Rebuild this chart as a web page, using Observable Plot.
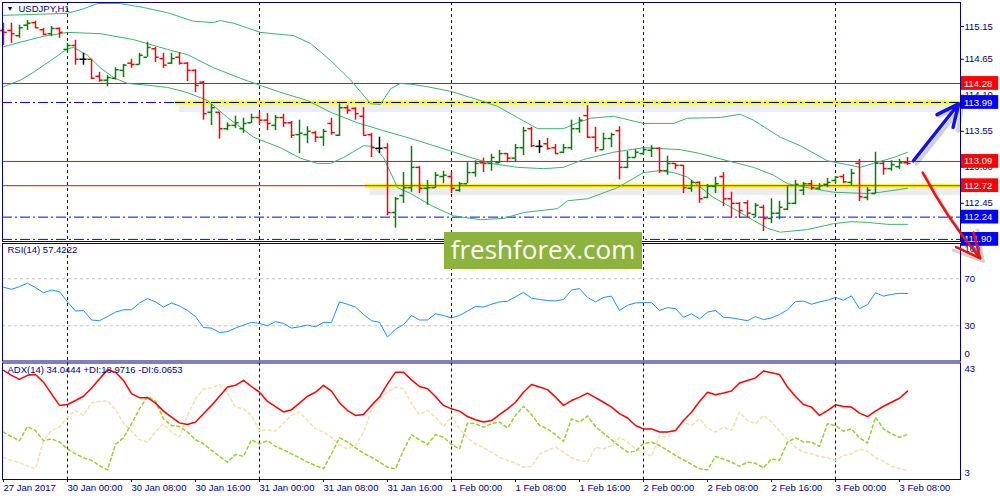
<!DOCTYPE html>
<html>
<head>
<meta charset="utf-8">
<script src="https://cdn.jsdelivr.net/npm/d3@7"></script>
<script src="https://cdn.jsdelivr.net/npm/@observablehq/plot@0.6"></script>
<style>
  body { margin: 0; background: #fff; }
  #chart { position: relative; width: 1000px; height: 500px; overflow: hidden; background: #fff; }
  #chart svg { position: absolute; left: 0; overflow: visible; }
  #wm {
    position: absolute; left: 444px; top: 232px; width: 198px; height: 37px;
    background: #8db33f; color: #fff; font: 26px "Open Sans", sans-serif;
    line-height: 35px; text-align: center;
  }
</style>
</head>
<body>
<div id="chart"></div>
<script>
// USDJPY H1, bars 0..113 = 27 Jan 16:00 .. 3 Feb 09:00
const open = [115.09,115.09,115.01,115.17,115.21,115.10,115.04,115.12,114.80,114.86,
  114.65,114.65,114.39,114.33,114.36,114.48,114.59,114.57,114.68,114.81,
  114.66,114.59,114.68,114.59,114.48,114.30,113.84,113.84,113.59,113.64,
  113.59,113.68,113.76,113.72,113.64,113.76,113.68,113.50,113.50,113.53,
  113.46,113.67,113.49,113.91,113.90,113.78,113.50,113.29,113.30,112.31,
  112.57,112.69,113.00,112.68,112.69,112.86,112.86,112.65,112.75,112.92,
  113.07,113.06,113.07,113.21,113.14,113.30,113.59,113.32,113.36,113.30,
  113.23,113.30,113.59,113.79,113.46,113.27,113.44,113.56,113.00,113.15,
  113.21,113.26,113.29,112.95,113.06,113.03,112.68,112.77,112.54,112.71,
  112.86,112.52,112.45,112.46,112.28,112.39,112.22,112.30,112.36,112.45,
  112.65,112.75,112.68,112.74,112.80,112.86,112.77,113.06,112.54,112.60,
  113.06,112.98,113.01,113.07]
const high = [115.20,115.20,115.17,115.24,115.23,115.12,115.15,115.13,114.89,114.94,
  114.74,114.65,114.45,114.40,114.52,114.57,114.65,114.74,114.91,114.83,
  114.74,114.74,114.75,114.60,114.49,114.31,113.96,113.84,113.68,113.78,
  113.75,113.81,113.84,113.82,113.79,113.81,113.70,113.72,113.62,113.55,
  113.58,113.75,113.97,113.94,113.91,113.91,113.52,113.46,113.36,112.54,
  112.92,113.32,113.01,112.80,112.92,112.94,112.92,112.77,113.07,113.10,
  113.14,113.20,113.26,113.21,113.35,113.61,113.61,113.41,113.44,113.35,
  113.35,113.72,113.76,113.94,113.61,113.52,113.52,113.62,113.24,113.27,
  113.30,113.33,113.30,113.17,113.06,113.03,112.80,112.78,112.74,112.85,
  112.92,112.62,112.46,112.49,112.45,112.42,112.52,112.48,112.72,112.80,
  112.77,112.80,112.75,112.83,112.86,112.89,112.97,113.12,112.69,113.23,
  113.09,113.10,113.12,113.15]
const low = [114.86,114.89,114.97,115.09,115.12,115.01,115.00,114.97,114.74,114.56,
  114.56,114.34,114.30,114.23,114.33,114.37,114.51,114.56,114.68,114.60,
  114.51,114.57,114.56,114.31,114.14,113.72,113.64,113.43,113.56,113.59,
  113.52,113.67,113.65,113.56,113.56,113.61,113.44,113.21,113.36,113.38,
  113.32,113.49,113.47,113.81,113.72,113.49,113.15,113.21,112.26,112.07,
  112.45,112.62,112.60,112.42,112.68,112.75,112.60,112.62,112.75,112.85,
  112.92,112.94,113.06,113.07,113.07,113.18,113.30,113.21,113.26,113.20,
  113.21,113.26,113.52,113.44,113.23,113.26,113.30,112.81,112.98,113.14,
  113.18,113.15,112.91,112.88,112.97,112.60,112.62,112.45,112.52,112.60,
  112.40,112.23,112.22,112.23,112.23,112.02,112.14,112.20,112.34,112.43,
  112.57,112.65,112.65,112.69,112.75,112.75,112.71,112.48,112.49,112.59,
  112.88,112.94,112.97,113.03]
const close = [115.06,115.04,115.13,115.20,115.13,115.03,115.12,115.06,114.86,114.65,
  114.65,114.36,114.33,114.37,114.49,114.56,114.57,114.71,114.83,114.68,
  114.56,114.66,114.59,114.48,114.25,113.82,113.91,113.59,113.64,113.68,
  113.67,113.76,113.72,113.67,113.76,113.68,113.49,113.52,113.55,113.46,
  113.55,113.53,113.91,113.87,113.82,113.49,113.30,113.29,112.31,112.52,
  112.69,113.00,112.68,112.69,112.88,112.88,112.68,112.75,112.92,113.06,
  113.06,113.15,113.21,113.14,113.30,113.56,113.33,113.32,113.29,113.21,
  113.30,113.59,113.72,113.46,113.30,113.44,113.50,113.00,113.15,113.23,
  113.27,113.29,112.95,113.06,113.03,112.69,112.77,112.52,112.71,112.75,
  112.52,112.45,112.34,112.30,112.42,112.22,112.30,112.39,112.45,112.74,
  112.75,112.69,112.72,112.77,112.85,112.78,112.91,112.55,112.65,113.06,
  112.98,113.04,113.07,113.06]

// Bollinger bands (bar position, price)
const bbUpperX = [0,8,10,11.75,14.6,17.5,20.5,23.75,26.25,27.1,28.75,32.1,36.25,38.4,40.9,43.4,45.9,47.1,48.4,49.6,
  50.9,53,55.9,59.6,61.75,64.25,66.75,70,71.75,73.4,76.25,80,83.75,85.5,89.6,92.1,93.75,97.1,99.6,103,105.5,107.1,108.75,111.25,113]
const bbUpper = [115.32,115.35,115.42,115.50,115.50,115.44,115.36,115.23,115.21,115.24,115.20,115.06,115.01,114.89,114.63,114.33,113.97,113.96,114.20,114.28,
  114.27,114.23,114.16,114.02,113.93,113.76,113.59,113.59,113.68,113.75,113.78,113.67,113.67,113.75,113.76,113.81,113.72,113.46,113.33,113.10,113.04,113.00,113.06,113.15,113.23]
const bbMidX = [0,2.1,5,8,12.1,16.25,20.5,23,26.25,29.6,32.1,35,38,40.9,44.25,47.5,50.9,54.6,58.4,60.9,
  64.25,67.5,70,72.5,76.25,80,84.6,87.1,90.5,93.75,96.25,98,100.9,103.75,108,109.6,113]
const bbMid = [114.84,114.91,115.00,115.06,115.04,114.95,114.80,114.72,114.52,114.36,114.25,114.13,114.02,113.84,113.68,113.56,113.44,113.30,113.15,113.06,
  113.00,112.98,113.00,113.12,113.23,113.30,113.27,113.21,113.10,113.00,112.88,112.75,112.68,112.62,112.60,112.62,112.68]
const bbLowX = [0,2.1,3.75,5.9,8,8.75,10.5,12.1,13.75,15.5,17.5,20.5,23,25.5,28,31.25,34.6,37.1,39.25,40.9,
  42.5,45,46.25,47.5,49.25,50.9,53.4,56.25,59.6,62.5,65,69.25,70.5,73,76.75,80,82.1,83.75,85.5,88.75,
  91.25,93.75,95.5,97.1,100.5,103.75,105.9,108,110.5,113]
const bbLow = [114.23,114.33,114.45,114.63,114.81,114.83,114.71,114.52,114.37,114.28,114.26,114.22,114.14,114.02,113.76,113.46,113.30,113.14,113.06,113.06,
  113.15,113.33,113.32,113.15,112.69,112.60,112.42,112.26,112.20,112.22,112.31,112.37,112.49,112.52,112.69,112.92,112.95,112.92,112.85,112.54,
  112.37,112.19,112.07,112.01,112.05,112.14,112.17,112.16,112.13,112.13]

const rsi = [62.8,61.0,63.3,66.2,62.5,58.1,60.4,59.0,50.3,42.5,
  43.0,34.9,34.3,37.8,41.6,43.6,43.6,49.4,53.2,50.3,
  45.9,49.4,46.8,43.0,37.8,28.5,28.0,24.2,25.0,28.0,
  30.6,32.9,32.0,30.0,33.5,32.0,28.0,29.1,30.6,29.1,
  32.9,32.9,50.3,48.3,45.9,39.6,34.3,32.9,20.4,27.1,
  30.9,38.7,34.9,34.9,40.2,38.7,36.7,38.7,42.5,46.5,
  45.9,48.3,50.3,50.9,54.6,58.4,53.5,52.3,51.5,51.1,
  52.3,60.4,61.6,54.1,50.3,54.1,55.2,43.0,47.4,49.4,
  49.7,49.7,43.0,45.4,44.5,37.2,40.2,35.8,41.6,43.0,
  37.2,36.7,35.5,34.3,37.8,35.2,36.7,39.6,43.6,50.6,
  50.9,48.3,50.3,51.7,54.1,51.7,55.5,44.5,48.0,58.1,
  55.2,56.7,57.6,57.4]
const adx = [40.9,39.2,37.8,39.2,39.5,36.8,32.7,28.7,29.0,30.4,
  31.9,34.7,38.0,41.1,40.3,37.4,32.8,31.4,31.4,29.5,
  26.7,24.6,22.6,22.0,22.9,25.8,28.7,31.9,35.1,35.7,
  37.4,35.3,33.3,30.1,28.3,26.4,27.2,29.5,31.9,33.3,
  35.7,33.7,29.6,26.9,25.2,25.5,28.7,31.6,36.2,40.3,
  40.3,37.6,35.3,34.5,31.8,28.7,27.5,26.7,24.8,23.7,
  22.9,23.4,25.5,27.5,29.8,33.3,36.0,35.1,34.2,31.6,
  28.7,30.4,31.6,33.0,31.4,29.8,28.1,25.8,24.3,21.7,
  20.5,20.5,19.4,19.4,19.9,23.4,26.3,30.1,33.3,32.4,
  33.0,33.7,36.5,37.4,38.3,40.7,40.1,39.5,35.1,31.8,
  29.0,28.1,25.2,26.9,28.9,28.3,28.1,26.0,24.8,26.7,
  28.4,29.8,31.2,33.7]
const plusDI = [19.4,17.8,16.4,21.3,19.9,16.4,17.0,15.9,13.5,11.8,
  10.4,9.5,7.7,6.2,15.1,17.4,22.3,27.5,31.8,30.2,
  24.0,21.7,21.3,19.4,16.7,15.3,13.0,10.9,8.9,11.6,
  10.9,16.7,15.3,16.4,14.4,13.2,11.8,10.4,8.9,7.7,
  6.6,11.8,17.4,15.9,13.9,12.0,10.6,8.9,7.1,6.6,
  13.0,18.5,16.7,15.1,18.5,17.6,15.1,13.5,22.5,22.3,
  21.1,22.3,22.9,20.8,25.2,28.4,25.5,21.7,20.5,18.5,
  16.1,24.0,22.9,25.0,21.3,19.0,16.7,14.4,12.4,12.7,
  15.3,15.9,14.7,13.0,11.2,9.7,8.1,6.6,6.2,10.9,
  10.0,8.9,7.4,8.9,8.5,6.9,10.0,9.5,15.9,17.4,
  15.9,15.9,14.4,22.3,21.6,19.7,20.5,17.4,15.5,24.6,
  20.5,18.8,17.6,18.5]
const minusDI = [10.6,9.5,8.8,7.5,6.6,16.4,19.9,21.1,24.6,26.9,
  25.2,29.6,30.1,30.3,27.2,22.5,19.7,16.8,15.9,19.4,
  22.3,19.4,17.6,25.2,31.0,34.4,34.9,36.0,33.0,28.1,
  27.5,25.2,19.9,20.2,19.7,22.5,25.2,26.3,23.4,20.5,
  19.4,17.6,14.9,13.5,14.7,19.4,26.9,31.0,33.3,35.1,
  34.5,29.3,25.5,26.9,24.6,21.3,25.0,20.5,17.4,15.3,
  13.9,12.4,10.6,9.5,8.5,7.1,7.4,11.7,13.0,14.1,
  12.4,10.4,9.5,8.9,14.1,13.5,14.7,17.6,15.9,13.5,
  12.4,10.9,18.2,17.6,20.5,22.9,21.7,24.0,20.8,19.4,
  21.1,20.0,26.3,23.4,22.3,25.2,22.9,19.7,16.8,14.1,
  12.4,11.8,10.9,10.5,9.5,11.2,11.8,13.5,12.7,10.4,
  9.2,7.4,6.6,6.0]

const redLevels = [114.28, 113.09, 112.72]
const blueLevels = [113.99, 112.24, 111.90]
const priceTicks = [115.15, 114.65, 114.10, 113.55, 113.00, 112.45, 111.90]
const daySplits = [8, 32, 56, 80, 104]
const xTicks = [0, 8, 16, 24, 32, 40, 48, 56, 64, 72, 80, 88, 96, 104, 112]
const xLabels = ['27 Jan 2017', '30 Jan 00:00', '30 Jan 08:00', '30 Jan 16:00', '31 Jan 00:00',
  '31 Jan 08:00', '31 Jan 16:00', '1 Feb 00:00', '1 Feb 08:00', '1 Feb 16:00',
  '2 Feb 00:00', '2 Feb 08:00', '2 Feb 16:00', '3 Feb 00:00', '3 Feb 08:00']
const upArrow = [{x1: 113.75, y1: 113.10, x2: 119.4, y2: 113.97}]
const downArrow = [{x1: 114.9, y1: 112.92, x2: 122.1, y2: 111.61}]

const navy = '#000080'
const xDomain = [-0.125, 119.625]
const font = '"Liberation Sans", Arial, sans-serif'
const baseStyle = {fontFamily: font, fontSize: '9px', background: 'transparent', overflow: 'visible'}

const bars = open.map((o, i) => ({i, o, h: high[i], l: low[i], c: close[i]}))
const ohlc = (data, color) => [
  Plot.ruleX(data, {x: 'i', y1: 'l', y2: 'h', stroke: color, strokeWidth: 1.5}),
  Plot.ruleY(data, {y: 'o', x1: d => d.i - 0.45, x2: 'i', stroke: color, strokeWidth: 1.5}),
  Plot.ruleY(data, {y: 'c', x1: 'i', x2: d => d.i + 0.45, stroke: color, strokeWidth: 1.5})
]
const band = (xs, ys) => Plot.line(xs.map((x, k) => ({x, y: ys[k]})), {x: 'x', y: 'y', stroke: '#3cb371', strokeWidth: 1})
const boxes = [...redLevels.map(p => ({p, kind: 'r'})), ...blueLevels.map(p => ({p, kind: 'b'}))]

const mainChart = Plot.plot({
  width: 1000, height: 242, marginLeft: 2, marginRight: 40, marginTop: 2, marginBottom: 1,
  style: baseStyle,
  x: {domain: xDomain, axis: null},
  y: {domain: [111.868, 115.516], axis: null},
  marks: [
    Plot.ruleX(daySplits, {stroke: navy, strokeDasharray: '3,3'}),
    // shadows of the drawn levels
    Plot.ruleY([113.99], {x1: 22, x2: xDomain[1], stroke: '#000', strokeOpacity: 0.07, strokeWidth: 9, dy: 5}),
    Plot.ruleY([112.72], {x1: 45.8, x2: xDomain[1], stroke: '#000', strokeOpacity: 0.07, strokeWidth: 9, dy: 5}),
    Plot.ruleY(blueLevels, {stroke: '#0000ff', strokeDasharray: '10,3,2,3'}),
    Plot.ruleY(redLevels, {stroke: '#ff0000'}),
    Plot.ruleY([113.99], {x1: 21.5, x2: xDomain[1], stroke: '#ffff00', strokeWidth: 4}),
    Plot.ruleY([113.99], {x1: 21.5, x2: xDomain[1], stroke: '#000', strokeDasharray: '10,3,2,3'}),
    Plot.ruleY([112.72], {x1: 45.25, x2: xDomain[1], stroke: '#ffff00', strokeWidth: 4}),
    Plot.ruleY([112.72], {x1: 45.25, x2: xDomain[1], stroke: '#ff0000'}),
    band(bbUpperX, bbUpper),
    band(bbMidX, bbMid),
    band(bbLowX, bbLow),
    ...ohlc(bars.filter(d => d.c > d.o), '#008000'),
    ...ohlc(bars.filter(d => d.c < d.o), '#ff0000'),
    ...ohlc(bars.filter(d => d.c === d.o), '#000000'),
    Plot.frame({stroke: navy}),
    Plot.axisY(priceTicks, {anchor: 'right', tickSize: 3, tickPadding: 1, fill: navy, stroke: navy,
      tickFormat: d => d.toFixed(2), fontSize: 9.5}),
    Plot.rect(boxes.filter(d => d.kind === 'r'), {x1: 119.75, x2: 124.4, y1: d => d.p - 0.105, y2: d => d.p + 0.105, fill: '#ff0000'}),
    Plot.rect(boxes.filter(d => d.kind === 'b'), {x1: 119.75, x2: 124.4, y1: d => d.p - 0.105, y2: d => d.p + 0.105, fill: '#0000ff'}),
    Plot.text(boxes, {x: 120.05, y: 'p', text: d => d.p.toFixed(2), fill: '#fff', textAnchor: 'start', fontSize: 9.5}),
    Plot.text(['\u25BC'], {frameAnchor: 'top-left', dx: 4, dy: 4, fill: navy, fontSize: 7}),
    Plot.text(['USDJPY,H1'], {frameAnchor: 'top-left', dx: 16, dy: 3, fill: navy, fontSize: 9.5}),
    // arrows with soft shadows
    Plot.arrow(upArrow, {x1: 'x1', y1: 'y1', x2: 'x2', y2: 'y2', stroke: '#000', strokeOpacity: 0.18, strokeWidth: 4, headLength: 16, dx: 3, dy: 3}),
    Plot.arrow(downArrow, {x1: 'x1', y1: 'y1', x2: 'x2', y2: 'y2', stroke: '#000', strokeOpacity: 0.18, strokeWidth: 3, headLength: 16, bend: -6, dx: 3, dy: 3}),
    Plot.arrow(upArrow, {x1: 'x1', y1: 'y1', x2: 'x2', y2: 'y2', stroke: '#1010f0', strokeWidth: 3.5, headLength: 16, headAngle: 50}),
    Plot.arrow(downArrow, {x1: 'x1', y1: 'y1', x2: 'x2', y2: 'y2', stroke: '#f01010', strokeWidth: 2.5, headLength: 16, headAngle: 50, bend: -6})
  ]
})

const rsiChart = Plot.plot({
  width: 1000, height: 120, marginLeft: 2, marginRight: 40, marginTop: 1, marginBottom: 1.5,
  style: baseStyle,
  x: {domain: xDomain, axis: null},
  y: {domain: [0, 100], axis: null},
  marks: [
    Plot.ruleY([70, 30], {stroke: '#c0c0c0', strokeDasharray: '3,3'}),
    Plot.ruleX(daySplits, {stroke: navy, strokeDasharray: '3,3'}),
    Plot.lineY(rsi, {stroke: '#1e90ff', strokeWidth: 1}),
    Plot.frame({stroke: navy}),
    Plot.axisY([70, 30], {anchor: 'right', tickSize: 0, tickPadding: 4, fill: navy, fontSize: 9.5}),
    Plot.text([100], {y: d => d, frameAnchor: 'right', dx: 4, dy: 5, textAnchor: 'start', fill: navy, fontSize: 9.5}),
    Plot.text([0], {y: d => d, frameAnchor: 'right', dx: 4, dy: -7, textAnchor: 'start', fill: navy, fontSize: 9.5}),
    Plot.text(['RSI(14) 57.4222'], {frameAnchor: 'top-left', dx: 5, dy: 3, fill: navy, fontSize: 9.5})
  ]
})

const adxChart = Plot.plot({
  width: 1000, height: 138, marginLeft: 2, marginRight: 40, marginTop: 0.5, marginBottom: 21,
  style: baseStyle,
  x: {domain: xDomain, axis: null},
  y: {domain: [2.83, 43.5], axis: null},
  marks: [
    Plot.ruleX(daySplits, {stroke: navy, strokeDasharray: '3,3'}),
    Plot.lineY(minusDI, {stroke: '#f5deb3', strokeDasharray: '3,3'}),
    Plot.lineY(plusDI, {stroke: '#9acd32', strokeDasharray: '3,3'}),
    Plot.lineY(adx, {stroke: '#ff0000'}),
    Plot.frame({stroke: navy}),
    Plot.text([43], {y: d => d, frameAnchor: 'right', dx: 4, dy: 5, textAnchor: 'start', fill: navy, fontSize: 9.5}),
    Plot.text([3], {y: d => d, frameAnchor: 'right', dx: 4, dy: -6, textAnchor: 'start', fill: navy, fontSize: 9.5}),
    Plot.text(['ADX(14) 34.0444 +DI:18.9716 -DI:6.0653'], {frameAnchor: 'top-left', dx: 5, dy: 3.5, fill: navy, fontSize: 9.5}),
    Plot.axisX(xTicks, {anchor: 'bottom', tickSize: 3, tickPadding: 2, textAnchor: 'start', dx: 0,
      tickFormat: d => xLabels[xTicks.indexOf(d)], fill: navy, stroke: navy, fontSize: 9.5})
  ]
})

const chart = d3.select('#chart')
const place = (svg, top) => { svg.style.top = top + 'px'; chart.append(() => svg) }
place(rsiChart, 242)
place(adxChart, 362)
place(mainChart, 0)
chart.append('div').attr('id', 'wm').text('freshforex.com')
</script>
</body>
</html>
